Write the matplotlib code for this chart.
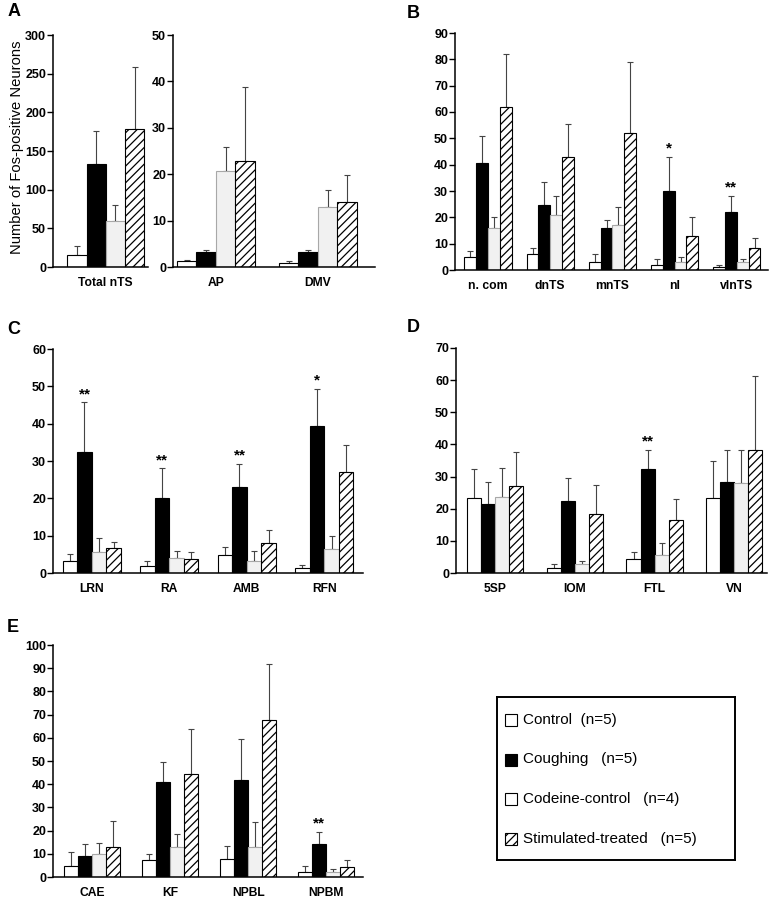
import numpy as np
import matplotlib
matplotlib.use("Agg")
import matplotlib.pyplot as plt
from matplotlib.patches import Rectangle

plt.rcParams['font.family'] = ['Liberation Sans', 'DejaVu Sans']
plt.rcParams['hatch.linewidth'] = 0.9

groups = ['Control  (n=5)', 'Coughing   (n=5)', 'Codeine-control   (n=4)',
          'Stimulated-treated   (n=5)']

# Panel A (left) - means and upper error per group
cats_a1 = ['Total nTS']
mean_a1 = [[15], [133], [59], [178]]
err_a1 = [[12], [43], [21], [80]]

# Panel A (right)
cats_a2 = ['AP', 'DMV']
mean_a2 = [[1.3, 0.9], [3.2, 3.2], [20.6, 13.0], [22.8, 14.0]]
err_a2 = [[0.3, 0.4], [0.4, 0.4], [5.3, 3.5], [16.1, 5.8]]

# Panel B
cats_b = ['n. com', 'dnTS', 'mnTS', 'nl', 'vlnTS']
mean_b = [[5, 6, 3, 2, 1],
          [40.8, 24.8, 16, 30, 22],
          [16, 21, 17, 3, 3],
          [62, 43, 52, 13, 8.5]]
err_b = [[2.3, 2.2, 3, 2, 1],
         [10.2, 8.7, 3, 13, 6],
         [4, 7, 7, 2, 1],
         [20, 12.5, 27, 7, 3.5]]
stars_b = ['', '', '', '*', '**']

# Panel C
cats_c = ['LRN', 'RA', 'AMB', 'RFN']
mean_c = [[3.2, 2.0, 4.7, 1.4],
          [32.4, 20.2, 23.0, 39.4],
          [5.5, 4.0, 3.2, 6.3],
          [6.7, 3.8, 8.0, 27.0]]
err_c = [[1.8, 1.2, 2.3, 0.8],
         [13.3, 7.8, 6.3, 9.8],
         [3.9, 1.8, 2.7, 3.7],
         [1.6, 1.8, 3.5, 7.3]]
stars_c = ['**', '**', '**', '*']

# Panel D
cats_d = ['5SP', 'IOM', 'FTL', 'VN']
mean_d = [[23.2, 1.6, 4.5, 23.4],
          [21.5, 22.5, 32.3, 28.3],
          [23.7, 2.8, 5.7, 27.9],
          [27.2, 18.5, 16.6, 38.3]]
err_d = [[9.1, 1.1, 2.1, 11.6],
         [6.7, 7.2, 6.0, 10.0],
         [8.9, 0.9, 3.7, 10.4],
         [10.3, 8.9, 6.5, 22.9]]
stars_d = ['', '', '**', '']

# Panel E
cats_e = ['CAE', 'KF', 'NPBL', 'NPBM']
mean_e = [[4.7, 7.2, 7.9, 2.3],
          [9.0, 40.9, 41.7, 14.2],
          [10.0, 13.0, 13.0, 2.3],
          [13.0, 44.6, 67.6, 4.3]]
err_e = [[6.1, 2.8, 5.5, 2.3],
         [5.4, 8.5, 17.6, 5.4],
         [4.7, 5.7, 10.6, 1.2],
         [11.2, 19.4, 24.4, 2.9]]
stars_e = ['', '', '', '**']

W, H = 775, 899
fig = plt.figure(figsize=(W / 100, H / 100), dpi=100)

styles = [dict(facecolor='white', edgecolor='black'),
          dict(facecolor='black', edgecolor='black'),
          dict(facecolor='#f1f1f1', edgecolor='#a8a8a8'),
          dict(facecolor='white', edgecolor='black', hatch='////')]


def px_axes(left, top, right, bottom):
    return fig.add_axes([left / W, 1 - bottom / H, (right - left) / W, (bottom - top) / H])


def draw_panel(ax, cats, means, errs, width, xlim, ymax, ystep, stars=None):
    x = np.arange(len(cats))
    offs = (np.arange(4) - 1.5) * width
    for k in range(4):
        ax.bar(x + offs[k], means[k], width, linewidth=0.8, zorder=2, **styles[k])
        ax.errorbar(x + offs[k], means[k],
                    yerr=[np.zeros(len(cats)), errs[k]],
                    fmt='none', ecolor='#444444', elinewidth=0.8,
                    capsize=2.5, capthick=0.8, zorder=1)
    if stars:
        for i, s in enumerate(stars):
            if s:
                top = means[1][i] + errs[1][i]
                ax.annotate(s, (x[i] + offs[1], top), xytext=(0, 1),
                            textcoords='offset points', ha='center', va='bottom',
                            fontsize=11, fontweight='bold')
    ax.set_xlim(*xlim)
    ax.set_ylim(0, ymax)
    ax.set_yticks(np.arange(0, ymax + 1, ystep))
    ax.set_xticks(x)
    ax.set_xticklabels(cats, fontsize=8.7, fontweight='bold')
    ax.tick_params(axis='x', length=0, pad=7)
    ax.tick_params(axis='y', length=4, width=1, pad=1, labelsize=9)
    for lab in ax.get_yticklabels():
        lab.set_fontweight('bold')
    for sp in ['top', 'right']:
        ax.spines[sp].set_visible(False)
    for sp in ['left', 'bottom']:
        ax.spines[sp].set_linewidth(1.1)


ax_a1 = px_axes(53, 35, 148, 267)
draw_panel(ax_a1, cats_a1, mean_a1, err_a1, 0.2, (-0.55, 0.44), 300, 50)
ax_a2 = px_axes(173, 35, 375, 267)
draw_panel(ax_a2, cats_a2, mean_a2, err_a2, 0.19, (-0.42, 1.56), 50, 10)
ax_b = px_axes(455, 33, 768, 270)
draw_panel(ax_b, cats_b, mean_b, err_b, 0.189, (-0.53, 4.5), 90, 10, stars_b)
ax_c = px_axes(53, 349, 363, 573)
draw_panel(ax_c, cats_c, mean_c, err_c, 0.1875, (-0.5, 3.5), 60, 10, stars_c)
ax_d = px_axes(456, 348, 767, 573)
draw_panel(ax_d, cats_d, mean_d, err_d, 0.176, (-0.49, 3.41), 70, 10, stars_d)
ax_e = px_axes(53, 645, 363, 877)
draw_panel(ax_e, cats_e, mean_e, err_e, 0.18, (-0.5, 3.47), 100, 10, stars_e)

fig.text(17 / W, 1 - 147 / H, 'Number of Fos-positive Neurons', rotation=90,
         ha='center', va='center', fontsize=10.6)

for letter, (lx, ly) in zip('ABCDE', [(8, 11), (407, 13), (7, 329), (407, 328), (7, 628)]):
    fig.text(lx / W, 1 - ly / H, letter, fontsize=13, fontweight='bold',
             ha='left', va='center')

# legend box drawn in its own pixel-space axes
ax_leg = px_axes(497, 697, 735, 860)
ax_leg.set_xlim(0, 238)
ax_leg.set_ylim(163, 0)
ax_leg.set_xticks([])
ax_leg.set_yticks([])
for sp in ax_leg.spines.values():
    sp.set_linewidth(1.4)
leg_faces = ['white', 'black', 'white', 'white']
leg_hatch = [None, None, None, '////']
for i, label in enumerate(groups):
    yc = 23 + i * 39.5
    ax_leg.add_patch(Rectangle((8, yc - 6), 12, 12, facecolor=leg_faces[i],
                               edgecolor='black', linewidth=0.8, hatch=leg_hatch[i]))
    ax_leg.text(26, yc, label, fontsize=11, ha='left', va='center')

fig.savefig('out.png', dpi=100)
